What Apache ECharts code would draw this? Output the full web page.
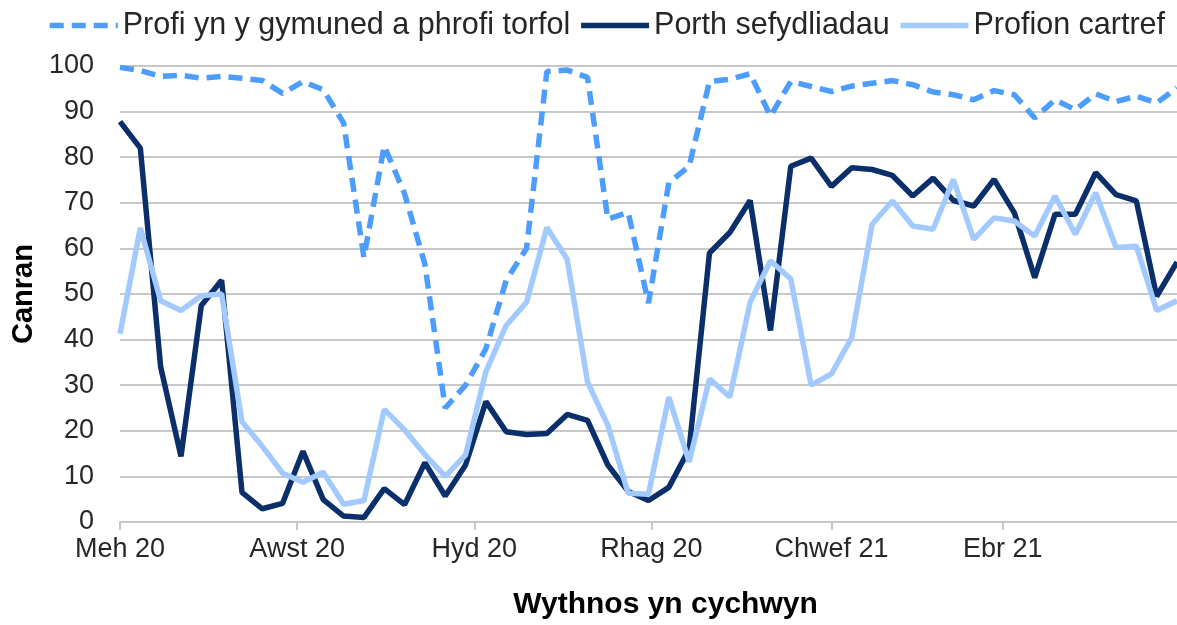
<!DOCTYPE html>
<html>
<head>
<meta charset="utf-8">
<script src="https://cdn.jsdelivr.net/npm/echarts@6/dist/echarts.min.js"></script>
<style>
html,body{margin:0;padding:0;background:#fff;}
#chart{width:1177px;height:625px;}
</style>
</head>
<body>
<div id="chart"></div>
<script>
// Week-commencing dates
const weeks = [
  '2020-06-01','2020-06-08','2020-06-15','2020-06-22','2020-06-29',
  '2020-07-06','2020-07-13','2020-07-20','2020-07-27',
  '2020-08-03','2020-08-10','2020-08-17','2020-08-24','2020-08-31',
  '2020-09-07','2020-09-14','2020-09-21','2020-09-28',
  '2020-10-05','2020-10-12','2020-10-19','2020-10-26',
  '2020-11-02','2020-11-09','2020-11-16','2020-11-23','2020-11-30',
  '2020-12-07','2020-12-14','2020-12-21','2020-12-28',
  '2021-01-04','2021-01-11','2021-01-18','2021-01-25',
  '2021-02-01','2021-02-08','2021-02-15','2021-02-22',
  '2021-03-01','2021-03-08','2021-03-15','2021-03-22','2021-03-29',
  '2021-04-05','2021-04-12','2021-04-19','2021-04-26',
  '2021-05-03','2021-05-10','2021-05-17','2021-05-24','2021-05-31'
];

const seriesNames = ['Profi yn y gymuned a phrofi torfol', 'Porth sefydliadau', 'Profion cartref'];

const community = [
  99.7, 99.0, 97.7, 98.0, 97.3, 97.7, 97.3, 96.8, 94.0, 96.6,
  94.8, 87.5, 58.0, 82.5, 72.0, 56.5, 25.0, 30.0, 38.0, 53.0,
  60.0, 98.8, 99.1, 97.5, 66.4, 67.9, 48.0, 74.4, 78.0, 96.6,
  97.1, 98.3, 89.0, 96.6, 95.5, 94.4, 95.6, 96.2, 96.8, 95.9,
  94.3, 93.7, 92.6, 94.6, 93.7, 88.6, 92.6, 90.4, 93.9, 92.2,
  93.4, 91.9, 95.2
];

const institutions = [
  87.8, 82.0, 34.0, 14.4, 47.5, 53.0, 6.5, 2.9, 4.1, 15.5,
  4.9, 1.3, 1.0, 7.3, 3.8, 13.0, 5.7, 12.5, 26.4, 19.8,
  19.2, 19.4, 23.6, 22.3, 12.5, 6.7, 4.7, 7.6, 16.0, 59.0,
  63.5, 70.5, 42.0, 78.0, 79.8, 73.6, 77.7, 77.3, 76.0, 71.5,
  75.4, 70.5, 69.3, 75.1, 67.8, 53.6, 67.5, 67.5, 76.6, 71.8,
  70.4, 49.5, 57.0
];

const homeTests = [
  41.3, 64.5, 48.5, 46.4, 49.6, 50.0, 22.0, 16.6, 10.7, 8.7,
  10.9, 3.9, 4.7, 24.7, 20.2, 14.8, 10.0, 14.7, 33.0, 43.1,
  48.2, 64.6, 57.6, 30.7, 21.2, 6.3, 6.1, 27.4, 13.2, 31.4,
  27.4, 48.2, 57.3, 53.3, 30.0, 32.5, 40.5, 65.3, 70.4, 64.9,
  64.2, 75.1, 62.0, 66.7, 66.0, 62.7, 71.5, 63.1, 72.2, 60.2,
  60.5, 46.4, 48.5
];

const tickDates = ['2020-06-01','2020-08-01','2020-10-01','2020-12-01','2021-02-01','2021-04-01'];
const tickLabels = ['Meh 20','Awst 20','Hyd 20','Rhag 20','Chwef 21','Ebr 21'];

function toTime(s){ const p = s.split('-'); return Date.UTC(+p[0], +p[1]-1, +p[2]); }
const tickTimes = tickDates.map(toTime);
function pairs(vals){ return weeks.map((w,i)=>[toTime(w), vals[i]]); }

const FONT = 'Liberation Sans, Arial, sans-serif';
const chart = echarts.init(document.getElementById('chart'), null, {renderer:'canvas'});
chart.setOption({
  animation:false,
  backgroundColor:'#ffffff',
  textStyle:{fontFamily:FONT},
  legend:{
    left:42, top:5,
    itemWidth:68, itemHeight:14, itemGap:8,
    itemStyle:{opacity:0},
    lineStyle:{width:5.5},
    textStyle:{fontSize:30.5, color:'#262626', fontFamily:FONT},
    data:seriesNames
  },
  grid:{left:120, right:0, top:66, bottom:101, containLabel:false},
  xAxis:{
    type:'value',
    min:toTime(weeks[0]),
    max:toTime(weeks[weeks.length-1]),
    name:'Wythnos yn cychwyn',
    nameLocation:'middle',
    nameGap:68,
    nameTextStyle:{fontSize:30, fontWeight:'bold', color:'#000', fontFamily:FONT, padding:[0,0,0,34]},
    axisLine:{show:true, lineStyle:{color:'#c8c8c8', width:2}},
    axisTick:{show:true, customValues:tickTimes, length:8, lineStyle:{color:'#c8c8c8', width:2}},
    axisLabel:{
      customValues:tickTimes,
      margin:14, fontSize:27, color:'#262626', fontFamily:FONT,
      showMinLabel:true, showMaxLabel:true, hideOverlap:false,
      formatter:function(v){ const i = tickTimes.indexOf(v); return i>=0 ? tickLabels[i] : ''; }
    },
    splitLine:{show:false}
  },
  yAxis:{
    type:'value', min:0, max:100, interval:10,
    name:'Canran',
    nameLocation:'middle',
    nameRotate:90,
    nameGap:76,
    nameTextStyle:{fontSize:29, fontWeight:'bold', color:'#000', fontFamily:FONT},
    axisLine:{show:false},
    axisTick:{show:false},
    axisLabel:{margin:26, fontSize:27, color:'#262626', fontFamily:FONT},
    splitLine:{show:true, lineStyle:{color:'#c8c8c8', width:2}}
  },
  series:[
    {
      name:seriesNames[0], type:'line', data:pairs(community),
      symbol:'none', smooth:false, clip:true,
      itemStyle:{color:'#4d9dff'},
      lineStyle:{color:'#4d9dff', width:5.5, type:[14,8]}
    },
    {
      name:seriesNames[1], type:'line', data:pairs(institutions),
      symbol:'none', smooth:false, clip:true,
      itemStyle:{color:'#0b2f6a'},
      lineStyle:{color:'#0b2f6a', width:5.5}
    },
    {
      name:seriesNames[2], type:'line', data:pairs(homeTests),
      symbol:'none', smooth:false, clip:true,
      itemStyle:{color:'#a3caff'},
      lineStyle:{color:'#a3caff', width:5.5}
    }
  ]
});
</script>
</body>
</html>
